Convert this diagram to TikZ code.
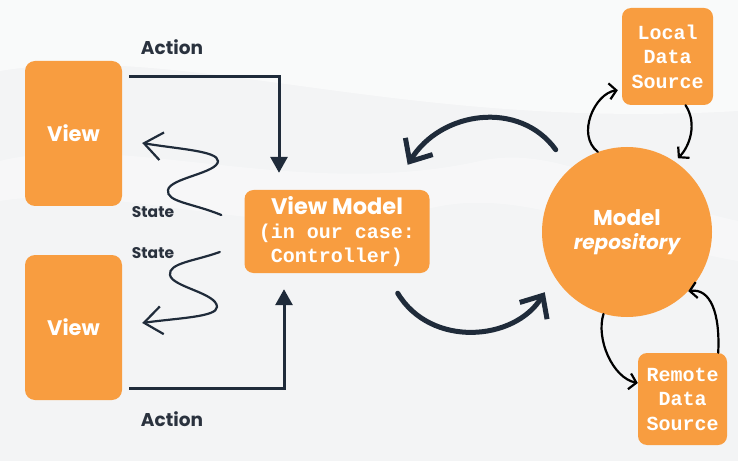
\documentclass[tikz,border=0pt]{standalone}
\usepackage{fontspec}
\setmainfont{Poppins}
\setmonofont{Liberation Mono}
\usetikzlibrary{arrows.meta, calc}
\definecolor{boxorange}{RGB}{248,157,64}
\definecolor{arrownavy}{RGB}{31,43,58}
\definecolor{labelgray}{RGB}{42,50,62}
\definecolor{paper}{RGB}{243,244,245}
\tikzset{
  view box/.style={
    fill=boxorange,
    rounded corners=10pt,
    minimum width=97pt,
    minimum height=145pt,
    text=white,
    font=\fontsize{21}{24}\selectfont\bfseries
  },
  source box/.style={
    fill=boxorange,
    rounded corners=9pt,
    inner sep=0pt,
    text=white,
    align=center,
    font=\ttfamily\bfseries\fontsize{20}{24.5}\selectfont
  },
  flow label/.style={
    text=labelgray,
    font=\bfseries\fontsize{18.5}{20}\selectfont
  },
  state label/.style={
    text=labelgray,
    font=\bfseries\fontsize{15.5}{17}\selectfont
  },
  action arrow/.style={
    -{Triangle[length=16pt,width=17pt]},
    line width=3pt,
    draw=arrownavy
  },
  state arrow/.style={
    -{Straight Barb[length=18pt,width=28pt]},
    line width=2.2pt,
    line cap=round,
    draw=arrownavy
  },
  swap arrow/.style={
    -{Straight Barb[length=18pt,width=32pt]},
    line width=5pt,
    line cap=round,
    draw=arrownavy
  },
  data arrow/.style={
    -{Straight Barb[length=7pt,width=16pt]},
    line width=2.2pt,
    line cap=round,
    draw=black
  }
}

\begin{document}
\begin{tikzpicture}[x=1pt, y=1pt]

  %% ---- background ----
  \fill[paper] (0,0) rectangle (738,461);
  \useasboundingbox (0,0) rectangle (738,461);
  \fill[white, opacity=0.55] (0,461) -- (0,390) .. controls (180,420) and (400,330) .. (738,350) -- (738,461) -- cycle;
  \fill[white, opacity=0.35] (0,300) .. controls (120,330) and (300,260) .. (480,300) .. controls (560,318) and (640,260) .. (738,240) -- (738,200) .. controls (620,220) and (520,280) .. (420,250) .. controls (280,215) and (120,280) .. (0,260) -- cycle;

  %% ---- views ----
  \node[view box] (viewtop) at (73.5,327.5) {View};
  \node[view box] (viewbottom) at (73.5,133.5) {View};

  %% ---- view model ----
  \node[fill=boxorange, rounded corners=9pt, minimum width=185pt, minimum height=83pt,
        inner sep=0pt, text=white, align=center, font=\fontsize{20}{24}\selectfont]
      (vm) at (337,229.5)
      {{\bfseries\fontsize{22.5}{24}\selectfont View Model}\\{\ttfamily\bfseries (in our case:}\\{\ttfamily\bfseries Controller)}};

  %% ---- model and its sources ----
  \node[circle, fill=boxorange, minimum size=170pt, inner sep=0pt, text=white, align=center,
        font=\fontsize{21.5}{24}\selectfont\bfseries]
      (model) at (627,229) {Model\\{\itshape\fontsize{20}{24}\selectfont repository}};
  \node[source box, minimum width=91pt, minimum height=97pt] (local) at (667.5,404.5) {Local\\Data\\Source};
  \node[source box, minimum width=89pt, minimum height=92pt] (remote) at (682.5,62) {Remote\\Data\\Source};

  %% ---- labels ----
  \node[flow label] (actiontop) at (172,414) {Action};
  \node[flow label] (actionbottom) at (172,42) {Action};
  \node[state label] (statetop) at (153,249) {State};
  \node[state label] (statebottom) at (153,208) {State};

  %% ---- actions: view -> view model ----
  \draw[action arrow] ([xshift=7pt,yshift=-16pt]viewtop.north east) -| ([xshift=-58pt,yshift=17pt]vm.north);
  \draw[action arrow] ([xshift=7pt,yshift=12pt]viewbottom.south east) -| ([xshift=-53pt,yshift=-16pt]vm.south);

  %% ---- states: view model -> view ----
  \draw[state arrow] ([shift={(-23pt,16.5pt)}]vm.west)
      .. controls (192,258) and (166,259) .. (168,271)
      .. controls (170,283) and (218,288) .. (218,300)
      .. controls (218,310) and (178,312) .. ([shift={(20pt,-9.5pt)}]viewtop.east);
  \draw[state arrow] ([shift={(-24.5pt,-20.5pt)}]vm.west)
      .. controls (195,200) and (168,198) .. (170,186)
      .. controls (172,174) and (217,168) .. (217,154)
      .. controls (217,144) and (178,143) .. ([shift={(20pt,4.5pt)}]viewbottom.east);

  %% ---- view model <-> model ----
  \draw[swap arrow] ([shift={(-11pt,22pt)}]model.north west) .. controls +(-36,50) and +(33,54) .. ([shift={(-22pt,25pt)}]vm.north east);
  \draw[swap arrow] ([shift={(-32pt,-20pt)}]vm.south east) .. controls +(33,-55) and +(-30,-49) .. ([shift={(-22pt,0pt)}]model.south west);

  %% ---- model <-> data sources ----
  \draw[data arrow] (model.110) .. controls +(-22,17) and +(-23,-3) .. ([shift={(-4pt,15pt)}]local.south west);
  \draw[data arrow] ([xshift=18pt]local.south) .. controls +(12,-18) and +(12,12) .. ([shift={(2pt,4pt)}]model.55);
  \draw[data arrow] (model.254) .. controls +(-8,-25) and +(-25,5) .. ([yshift=16pt]remote.west);
  \draw[data arrow] ([xshift=-9pt]remote.north east) .. controls +(2,40) and +(22,3) .. (model.-44);

\end{tikzpicture}
\end{document}
